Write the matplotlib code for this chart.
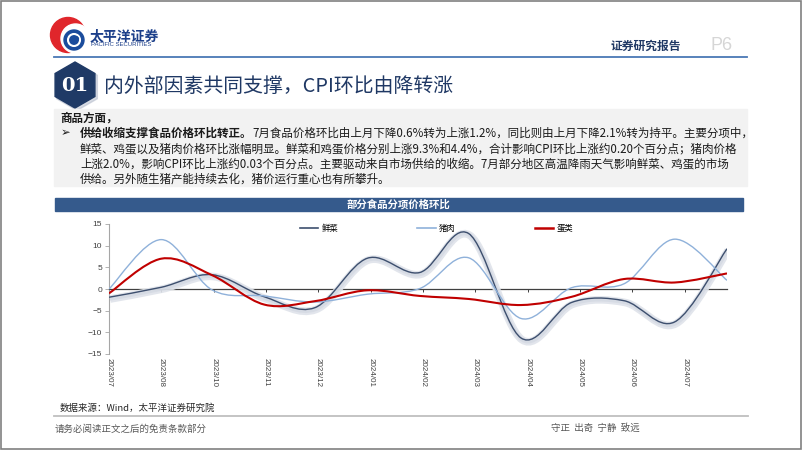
import numpy as np
import pandas as pd
import matplotlib
matplotlib.use('Agg')
import matplotlib.pyplot as plt
import matplotlib.dates as mdates
import matplotlib.patheffects as pe
from matplotlib.path import Path
from matplotlib.patches import PathPatch, Rectangle, RegularPolygon, Circle
from matplotlib.lines import Line2D

plt.rcParams['font.family'] = ['Noto Sans CJK SC', 'DejaVu Sans']

# datos (variacion mensual, %), fin de mes 2023/07 - 2024/07
meses = pd.date_range('2023-07-31', '2024-07-31', freq='ME')
xiancai = [-1.9, 0.4, 3.3, -1.8, -4.3, 7.1, 3.8, 12.8, -11.3, -3.1, -2.7, -7.6, 9.3]
zhurou = [0.0, 11.4, -0.2, -1.6, -3.0, -1.2, 0.1, 7.2, -6.8, 0.3, 1.2, 11.5, 2.0]
danlei = [-1.0, 7.0, 3.2, -3.6, -2.8, -0.3, -1.6, -2.3, -3.7, -1.8, 2.3, 1.5, 3.6]
nombres = ['鲜菜', '猪肉', '蛋类']
colores = ['#3d4f6e', '#8fb1da', '#c00000']

# eje de fechas como en Excel: una marca cada 31 dias
marcas = pd.date_range('2023-07-31', periods=12, freq='31D')
etiquetas = marcas.strftime('%Y/%m')

lineas_texto = [
    '鲜菜、鸡蛋以及猪肉价格环比涨幅明显。鲜菜和鸡蛋价格分别上涨9.3%和4.4%，合计影响CPI环比上涨约0.20个百分点；猪肉价格',
    '上涨2.0%，影响CPI环比上涨约0.03个百分点。主要驱动来自市场供给的收缩。7月部分地区高温降雨天气影响鲜菜、鸡蛋的市场',
    '供给。另外随生猪产能持续去化，猪价运行重心也有所攀升。',
]


def curva(x, y):
    # linea suavizada tipo Excel: Bezier cubica que pasa por cada punto
    p = np.column_stack([x, y])
    ext = np.vstack([p[0], p, p[-1]])
    verts = [p[0]]
    codes = [Path.MOVETO]
    for i in range(len(p) - 1):
        c1 = p[i] + (ext[i + 2] - ext[i]) / 6
        c2 = p[i + 1] - (ext[i + 3] - ext[i + 1]) / 6
        verts += [c1, c2, p[i + 1]]
        codes += [Path.CURVE4] * 3
    return Path(verts, codes)


fig = plt.figure(figsize=(8.02, 4.51), dpi=100)
bg = fig.add_axes([0, 0, 1, 1])
bg.set_xlim(0, 802)
bg.set_ylim(451, 0)
bg.axis('off')

# marco
bg.add_patch(Rectangle((1, 1), 800, 448, fill=False, edgecolor='#808080', lw=1.2))

# logo
bg.add_patch(Circle((68, 35), 17.5, color='#e0262b'))
bg.add_patch(Circle((75.5, 38.5), 14.5, color='white'))
bg.add_patch(Circle((74, 40), 10, color='#1b4c9c'))
bg.add_patch(Circle((74, 40), 6, fill=False, edgecolor='white', lw=1.5))
bg.add_patch(Circle((76, 39), 2.4, color='#1b4c9c'))
bg.text(90, 36, '太平洋证券', fontsize=10, fontweight='bold', color='#1c3f8a', va='center')
bg.text(91, 45, 'PACIFIC SECURITIES', fontsize=4.3, color='#1c3f8a', va='center',
        family='Liberation Sans')

# cabecera
bg.text(611, 46, '证券研究报告', fontsize=8.5, fontweight='bold', color='#1f3864', va='center')
bg.text(711, 46, 'P6', fontsize=13, color='#d6d6d6', va='center', family='Liberation Sans')
bg.plot([54, 747], [57, 57], color='#4a78b5', lw=1.3)

# titulo de seccion
bg.add_patch(RegularPolygon((77, 87), 6, radius=23.5, color='#b0b8c8', alpha=0.5))
bg.add_patch(RegularPolygon((75, 85), 6, radius=23, color='#1f3a66'))
bg.text(75, 86, '01', fontsize=14, fontweight='bold', color='white', ha='center', va='center',
        family='DejaVu Serif')
bg.text(104, 86, '内外部因素共同支撑，CPI环比由降转涨', fontsize=14.3, color='#1f3864', va='center')

# cuadro de texto
bg.add_patch(Rectangle((54, 109), 693, 77, color='#f2f2f2'))
fs = 8.3
bg.text(60, 118, '商品方面，', fontsize=fs, fontweight='bold', color='#1a1a1a', va='center')
bg.text(61, 133, '➢', fontsize=fs, color='#1a1a1a', va='center', family='DejaVu Sans')
r = fig.canvas.get_renderer()
t = bg.text(80, 133, '供给收缩支撑食品价格环比转正。', fontsize=fs, fontweight='bold',
            color='#1a1a1a', va='center')
x_fin = t.get_window_extent(r).x1
bg.text(x_fin, 133, '7月食品价格环比由上月下降0.6%转为上涨1.2%，同比则由上月下降2.1%转为持平。主要分项中，',
        fontsize=fs, color='#1a1a1a', va='center')
for k, linea in enumerate(lineas_texto):
    bg.text(80, 149 + k * 15.3, linea, fontsize=fs, color='#1a1a1a', va='center')

# barra del titulo del grafico
bg.add_patch(Rectangle((55, 198), 688, 12.5, color='#355a8c'))
bg.text(398, 204.5, '部分食品分项价格环比', fontsize=7.5, fontweight='bold', color='white',
        ha='center', va='center')

# pie de pagina
bg.text(60, 408, '数据来源：Wind，太平洋证券研究院', fontsize=6.8, color='#262626', va='center')
bg.plot([54, 748], [416, 416], color='#bfbfbf', lw=1.3)
bg.text(55, 429, '请务必阅读正文之后的免责条款部分', fontsize=6.8, color='#595959', va='center')
bg.text(551, 428, '守正  出奇  宁静  致远', fontsize=6.8, color='#595959', va='center')

# grafico
ax = fig.add_axes([109 / 802, (451 - 354) / 451, 618 / 802, 130 / 451])
ax.set_facecolor('none')
x = mdates.date2num(meses)
series = [xiancai, zhurou, danlei]
anchos = [1.0, 1.0, 1.5]
for vals, col, lw, nom in zip(series, colores, anchos, nombres):
    patch = PathPatch(curva(x, vals), fill=False, edgecolor=col, lw=lw, zorder=3)
    if nom == '鲜菜':
        patch.set_path_effects([
            pe.SimpleLineShadow(offset=(0.8, -1.3), shadow_color='#dfe3ea', alpha=0.9, linewidth=5.5),
            pe.SimpleLineShadow(offset=(0.6, -1.0), shadow_color='#cfd5df', alpha=0.6, linewidth=3),
            pe.Normal()])
    ax.add_patch(patch)

ax.set_xlim(x[0], x[-1])
ax.set_ylim(-15, 15)
ax.set_yticks(range(-15, 16, 5))
ax.set_xticks(mdates.date2num(marcas))
for s in ['top', 'right']:
    ax.spines[s].set_visible(False)
ax.spines['left'].set_color('#a6a6a6')
ax.spines['left'].set_linewidth(0.8)
ax.spines['bottom'].set_position(('data', 0))
ax.spines['bottom'].set_color('#404040')
ax.spines['bottom'].set_linewidth(0.9)
ax.tick_params(axis='y', length=3, width=0.6, colors='#a6a6a6', labelcolor='#404040',
               labelsize=6, pad=2)
ax.tick_params(axis='x', direction='out', length=2.5, width=0.7, color='#404040',
               labelbottom=False)
for lab in ax.get_yticklabels():
    lab.set_family('Liberation Sans')
for xt, lab in zip(mdates.date2num(marcas), etiquetas):
    ax.text(xt, -0.03, lab, transform=ax.get_xaxis_transform(), rotation=-90, ha='center',
            va='top', fontsize=5.8, color='#404040', family='Liberation Sans')

manejadores = [Line2D([], [], color=c, lw=w) for c, w in zip(colores, [1.2, 1.2, 1.8])]
ax.legend(manejadores, nombres, ncol=3, loc='center', bbox_to_anchor=(0.53, 0.965),
          frameon=False, fontsize=6, handlelength=2.2, handletextpad=0.4, columnspacing=9.5)

fig.savefig('out.png', dpi=100)
